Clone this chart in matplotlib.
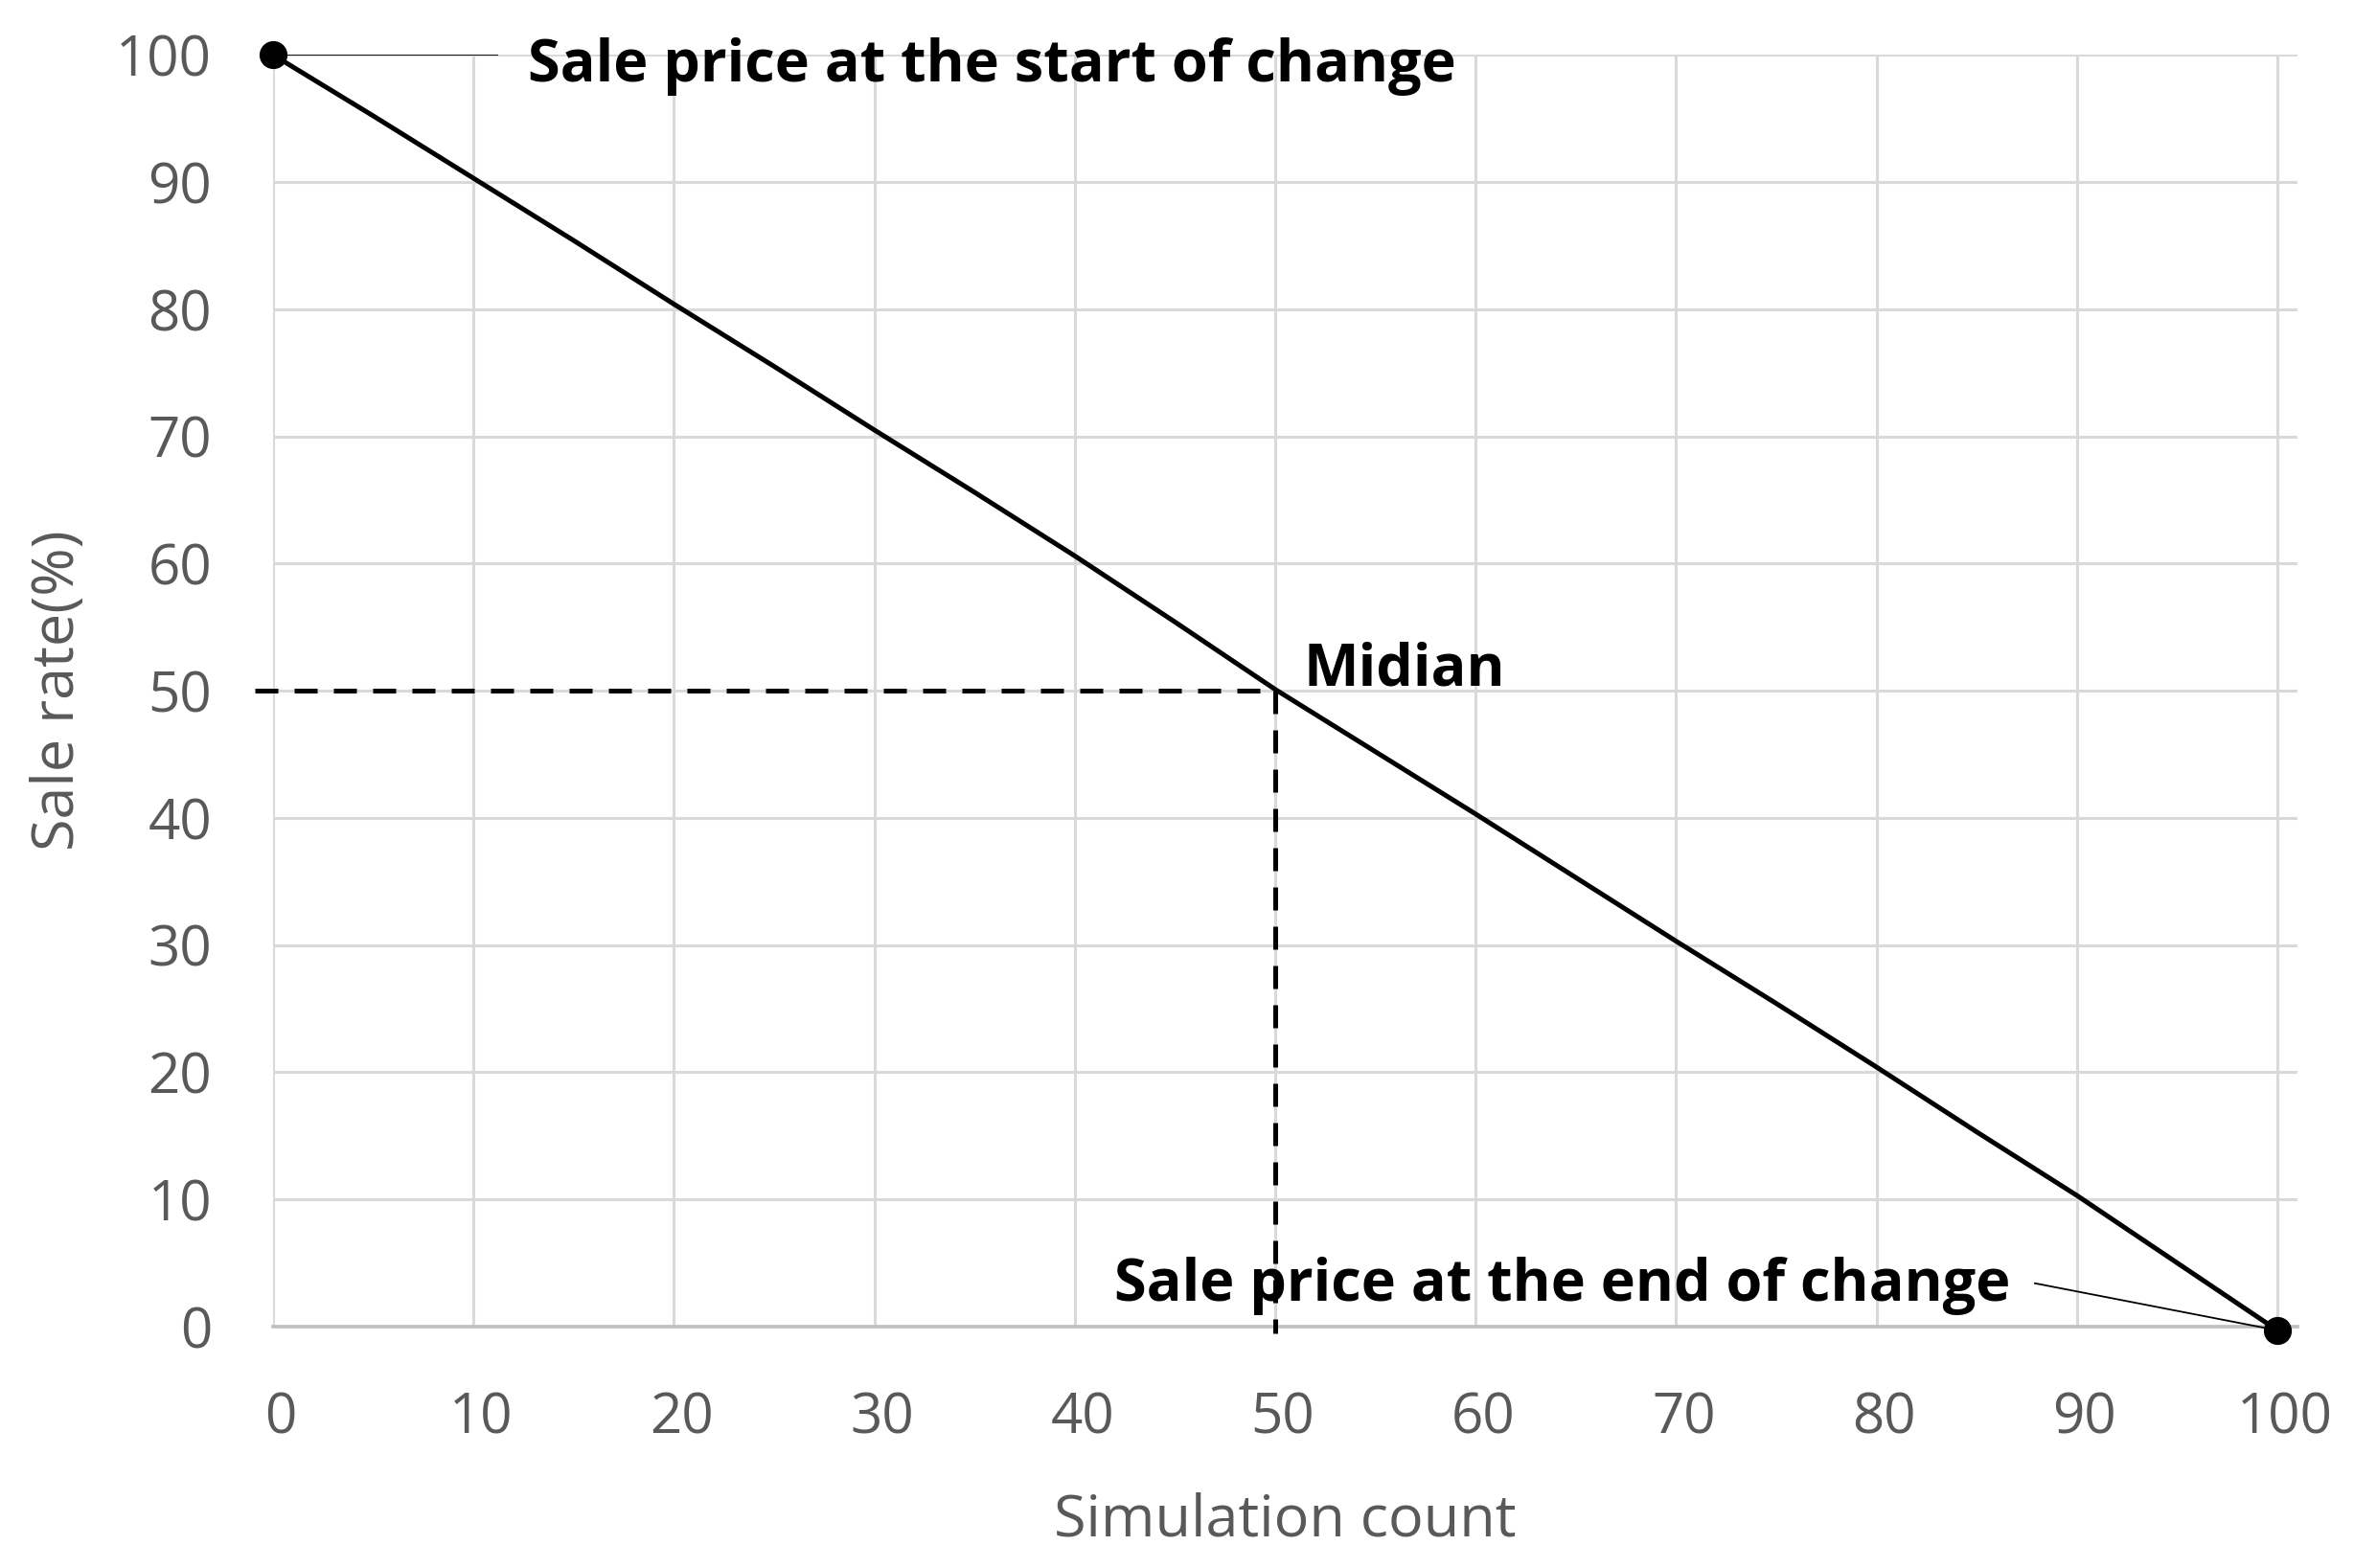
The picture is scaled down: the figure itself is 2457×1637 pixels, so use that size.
import matplotlib
matplotlib.use("Agg")
import matplotlib.pyplot as plt
import matplotlib.transforms as mtransforms

# ---- data ----
sim_count = [0, 5, 10, 15, 20, 25, 30, 35, 40, 45, 50, 55, 60, 65, 70, 75, 80, 85, 90, 95, 100]
sale_rate = [100, 95.2, 90.3, 85.4, 80.4, 75.5, 70.5, 65.6, 60.6, 55.4, 50.1,
             45.2, 40.3, 35.3, 30.3, 25.4, 20.4, 15.3, 10.3, 5.0, -0.3]
x_ticks = [0, 10, 20, 30, 40, 50, 60, 70, 80, 90, 100]
y_ticks = [0, 10, 20, 30, 40, 50, 60, 70, 80, 90, 100]
median_x = 50
median_y = 50
label_start = "Sale price at the start of change"
label_end = "Sale price at the end of change"
label_mid = "Midian"
x_label = "Simulation count"
y_label = "Sale rate(%)"

plt.rcParams['font.family'] = ['Open Sans', 'DejaVu Sans']

fig = plt.figure(figsize=(24.57, 16.37), dpi=100)
ax = fig.add_axes([0.116, 0.154, 0.976 - 0.116, 0.965 - 0.154])

ax.set_xlim(0, 101)
ax.set_ylim(0, 100)
ax.set_xticks(x_ticks)
ax.set_yticks(y_ticks)

grid_c = '#d9d9d9'
ax.grid(True, color=grid_c, linewidth=2.2)
ax.set_axisbelow(True)
for s in ['top', 'right', 'left']:
    ax.spines[s].set_visible(False)
ax.spines['bottom'].set_color('#bfbfbf')
ax.spines['bottom'].set_linewidth(2.6)
ax.spines['bottom'].set_zorder(1.5)

ax.tick_params(axis='both', length=0, labelsize=42, labelcolor='#595959')
ax.tick_params(axis='x', pad=48)
ax.tick_params(axis='y', pad=46)
# small right shift of x tick labels as in reference
off = mtransforms.ScaledTranslation(8 / 100, 0, fig.dpi_scale_trans)
for lab in ax.get_xticklabels():
    lab.set_transform(lab.get_transform() + off)

ax.set_xlabel(x_label, fontsize=44, color='#595959', labelpad=34)
ax.set_ylabel(y_label, fontsize=44, color='#595959', labelpad=22)

# main line
ax.plot(sim_count, sale_rate, color='black', linewidth=3.6, clip_on=False, zorder=3)
# end point markers
ax.plot([sim_count[0]], [sale_rate[0]], 'o', color='black', markersize=20, clip_on=False, zorder=4)
ax.plot([sim_count[-1]], [sale_rate[-1]], 'o', color='black', markersize=20, clip_on=False, zorder=4)

# median dashed guides
ax.plot([-0.9, median_x], [median_y, median_y], color='black', linewidth=3.6,
        dashes=[4.8, 3.4], clip_on=False, zorder=2.5)
ax.plot([median_x, median_x], [median_y, -0.5], color='black', linewidth=3.6,
        dashes=[4.8, 3.4], clip_on=False, zorder=2.5)

# annotations
ax.plot([sim_count[0], 11.2], [sale_rate[0], sale_rate[0]], color='black', linewidth=1.3, zorder=3)
ax.text(12.7, 99.1, label_start, fontsize=44, fontweight='bold', ha='left', va='center', zorder=5)

ax.text(51.4, 50.4, label_mid, fontsize=44, fontweight='bold', ha='left', va='baseline', zorder=5)

ax.plot([87.9, sim_count[-1]], [3.4, sale_rate[-1]], color='black', linewidth=1.3, clip_on=False, zorder=3)
ax.text(86.7, 3.2, label_end, fontsize=44, fontweight='bold', ha='right', va='center', zorder=5)

fig.savefig('out.png', dpi=100, facecolor='white')
